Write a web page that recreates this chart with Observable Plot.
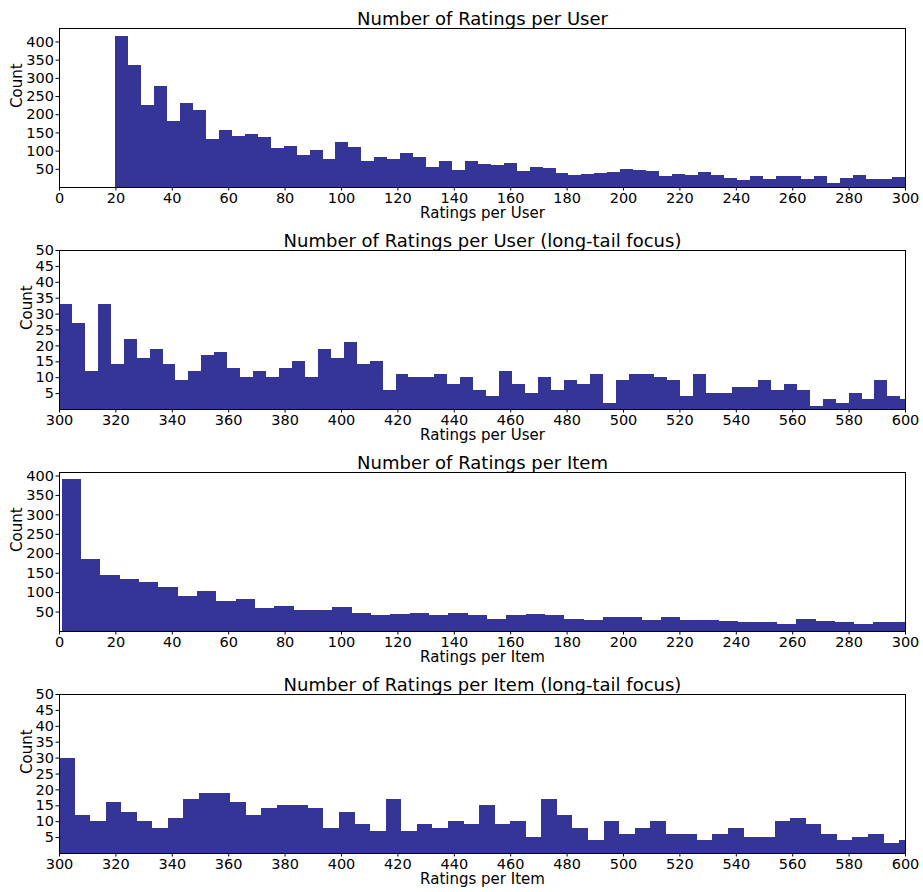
<!DOCTYPE html>
<html>
<head>
<meta charset="utf-8">
<script src="https://cdn.jsdelivr.net/npm/d3@7"></script>
<script src="https://cdn.jsdelivr.net/npm/@observablehq/plot@0.6"></script>
<style>
  html, body { margin: 0; padding: 0; background: #fff; }
  #chart svg { display: block; }
</style>
</head>
<body>
<div id="chart"></div>
<script>
// ---- Data ----
// Ratings per user, 0–300 view (bins start at 20)
const userBinStart = 20;
const userBinWidth = 280 / 61;
const userCounts = [415, 335, 225, 278, 182, 231, 212, 132, 157, 140,
  146, 138, 108, 113, 88, 102, 78, 124, 110, 72,
  83, 78, 94, 83, 56, 72, 47, 72, 64, 61,
  66, 45, 56, 53, 39, 34, 36, 39, 42, 50,
  47, 45, 31, 36, 34, 42, 34, 25, 20, 31,
  22, 31, 31, 22, 31, 11, 25, 34, 22, 22, 28];

// Ratings per user, long tail 300–600
const userTailStart = 300;
const userTailCounts = [33, 27, 12, 33, 14, 22, 16, 19, 14, 9,
  12, 17, 18, 13, 10, 12, 10, 13, 15, 10,
  19, 16, 21, 14, 15, 6, 11, 10, 10, 11,
  8, 10, 6, 4, 12, 8, 5, 10, 6, 9,
  8, 11, 2, 9, 11, 11, 10, 9, 4, 11,
  5, 5, 7, 7, 9, 6, 8, 6, 1, 3,
  2, 5, 3, 9, 4, 3];

// Ratings per item, 0–300 view
const itemBinStart = 1;
const itemBinWidth = 6.853;
const itemCounts = [390, 186, 145, 135, 127, 112, 89, 104, 76, 83,
  58, 65, 55, 55, 63, 47, 42, 45, 47, 40,
  47, 40, 32, 42, 45, 40, 32, 29, 37, 35,
  29, 37, 29, 29, 27, 24, 22, 17, 32, 27,
  22, 17, 22, 24];

// Ratings per item, long tail 300–600
const itemTailStart = 300;
const itemTailWidth = 5.517;
const itemTailCounts = [30, 12, 10, 16, 13, 10, 8, 11, 17, 19,
  19, 16, 12, 14, 15, 15, 14, 8, 13, 9,
  7, 17, 7, 9, 8, 10, 9, 15, 9, 10,
  5, 17, 12, 8, 4, 10, 6, 8, 10, 6,
  6, 4, 6, 8, 5, 5, 10, 11, 9, 6,
  4, 5, 6, 3, 4];

// Tick labels
const xTicksLow = [0, 20, 40, 60, 80, 100, 120, 140, 160, 180, 200, 220, 240, 260, 280, 300];
const xTicksHigh = [300, 320, 340, 360, 380, 400, 420, 440, 460, 480, 500, 520, 540, 560, 580, 600];
const yTicksBig = [50, 100, 150, 200, 250, 300, 350, 400];
const yTicksSmall = [5, 10, 15, 20, 25, 30, 35, 40, 45, 50];

const titles = ["Number of Ratings per User", "Number of Ratings per User (long-tail focus)",
  "Number of Ratings per Item", "Number of Ratings per Item (long-tail focus)"];
const xLabels = ["Ratings per User", "Ratings per User", "Ratings per Item", "Ratings per Item"];

// ---- Drawing ----
const BAR = "#353597";

function bins(start, width, counts) {
  return counts.map((c, i) => ({x1: start + i * width, x2: start + (i + 1) * width, count: c}));
}

function panel({title, xlabel, data, xDomain, xTicks, yDomain, yTicks, countDx}) {
  return Plot.plot({
    width: 923,
    height: 222,
    marginLeft: 59,
    marginRight: 18,
    marginTop: 28,
    marginBottom: 35,
    style: {fontFamily: "DejaVu Sans", fontSize: "15px", color: "black", background: "white", overflow: "visible"},
    x: {domain: xDomain},
    y: {domain: yDomain},
    marks: [
      Plot.rectY(data, {x1: "x1", x2: "x2", y: "count", fill: BAR,
        insetLeft: 0, insetRight: 0, clip: "frame", shapeRendering: "crispEdges"}),
      Plot.frame({stroke: "black", strokeWidth: 1}),
      Plot.axisX({ticks: xTicks, tickSize: 3.5, tickPadding: 1.5, fontSize: 14.5, label: null, tickFormat: d => String(d)}),
      Plot.axisY({ticks: yTicks, tickSize: 3.5, tickPadding: 2, fontSize: 14.5, label: null, tickFormat: d => String(d)}),
      Plot.text([title], {text: d => d, frameAnchor: "top", lineAnchor: "bottom", dy: -4, fontSize: 18}),
      Plot.text([xlabel], {text: d => d, frameAnchor: "bottom", lineAnchor: "middle", dy: 26, fontSize: 15}),
      Plot.text(["Count"], {text: d => d, frameAnchor: "left", lineAnchor: "middle", rotate: -90, dx: countDx, fontSize: 15})
    ]
  });
}

const chart = document.getElementById("chart");
chart.append(panel({title: titles[0], xlabel: xLabels[0], data: bins(userBinStart, userBinWidth, userCounts),
  xDomain: [0, 300], xTicks: xTicksLow, yDomain: [0, 437], yTicks: yTicksBig, countDx: -42}));
chart.append(panel({title: titles[1], xlabel: xLabels[1], data: bins(userTailStart, userBinWidth, userTailCounts),
  xDomain: [300, 600], xTicks: xTicksHigh, yDomain: [0, 50], yTicks: yTicksSmall, countDx: -32}));
chart.append(panel({title: titles[2], xlabel: xLabels[2], data: bins(itemBinStart, itemBinWidth, itemCounts),
  xDomain: [0, 300], xTicks: xTicksLow, yDomain: [0, 409], yTicks: yTicksBig, countDx: -42}));
chart.append(panel({title: titles[3], xlabel: xLabels[3], data: bins(itemTailStart, itemTailWidth, itemTailCounts),
  xDomain: [300, 600], xTicks: xTicksHigh, yDomain: [0, 50], yTicks: yTicksSmall, countDx: -32}));
</script>
</body>
</html>
